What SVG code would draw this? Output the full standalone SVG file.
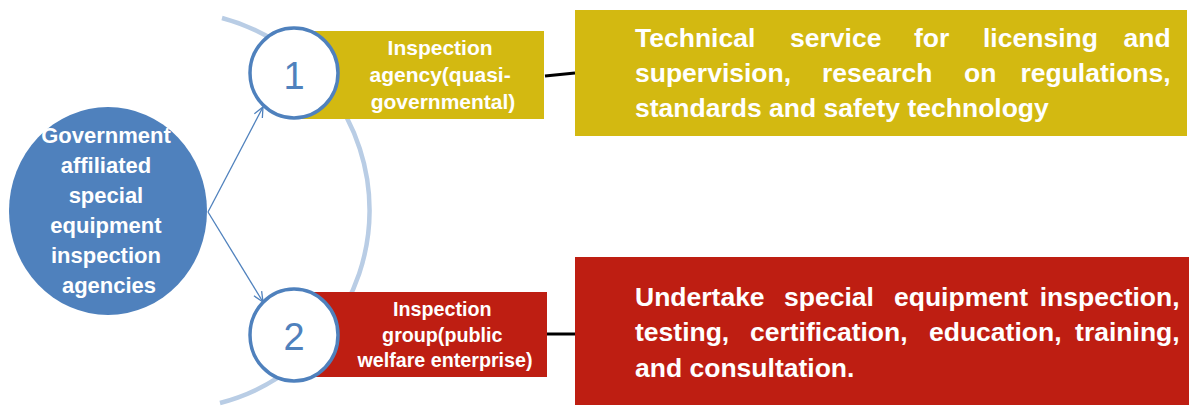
<svg xmlns="http://www.w3.org/2000/svg" width="1189" height="406" viewBox="0 0 1189 406">
<style>
.lbl{font-family:"Liberation Sans",Arial,sans-serif;font-weight:bold;fill:#fff;text-anchor:middle}
.big{font-family:"Liberation Sans",Arial,sans-serif;font-weight:bold;fill:#fff;font-size:26.5px}
.num{font-family:"Liberation Sans",Arial,sans-serif;fill:#4f81bd;font-size:38px;text-anchor:middle}
.ring{fill:#fff;stroke:#4f81bd;stroke-width:3.5}
.arrow{stroke:#4f81bd;stroke-width:1.3;fill:none}
.link{stroke:#000;stroke-width:3;fill:none}
</style>
<defs>
<marker id="open" markerUnits="userSpaceOnUse" viewBox="0 0 12 12" refX="11" refY="6" markerWidth="12" markerHeight="12" orient="auto">
<path d="M1,1.5 L11,6 L1,10.5" fill="none" stroke="#4f81bd" stroke-width="1.3"/>
</marker>
</defs>
<rect width="1189" height="406" fill="#fff"/>
<g id="arc">
<path d="M222,18 A199,199 0 0 1 220,403" fill="none" stroke="#b9cde5" stroke-width="4.5"/>
</g>
<g id="connectors">
<line class="arrow" x1="208" y1="212" x2="263" y2="107" marker-end="url(#open)"/>
<line class="arrow" x1="208" y1="212" x2="263" y2="302" marker-end="url(#open)"/>
<line class="link" x1="545" y1="76" x2="575" y2="73"/>
<line class="link" x1="547" y1="334" x2="575" y2="334"/>
</g>
<g id="source">
<ellipse cx="108" cy="211" rx="99" ry="104" fill="#4f81bd"/>
<text class="lbl" font-size="22" x="109">
<tspan x="109" y="143">Government</tspan>
<tspan x="109" y="173">affiliated</tspan>
<tspan x="109" y="203">special</tspan>
<tspan x="109" y="233">equipment</tspan>
<tspan x="109" y="263">inspection</tspan>
<tspan x="109" y="293">agencies</tspan>
</text>
</g>
<g id="node1">
<rect x="300" y="31" width="244" height="88" fill="#d3b911"/>
<ellipse class="ring" cx="294" cy="73" rx="44" ry="45"/>
<text class="num" x="294" y="89">1</text>
<text class="lbl" font-size="21">
<tspan x="443" y="55">Inspection</tspan>
<tspan x="443" y="82">agency(quasi-</tspan>
<tspan x="443" y="109">governmental)</tspan>
</text>
</g>
<g id="node2">
<rect x="300" y="292" width="247" height="85" fill="#be1e12"/>
<ellipse class="ring" cx="294" cy="335" rx="44" ry="46"/>
<text class="num" x="294" y="350">2</text>
<text class="lbl" font-size="19.7">
<tspan x="445" y="316">Inspection</tspan>
<tspan x="445" y="342">group(public</tspan>
<tspan x="445" y="367">welfare enterprise)</tspan>
</text>
</g>
<g id="desc1">
<rect x="575" y="10" width="612" height="126" fill="#d3b911"/>
<text class="big">
<tspan x="635" y="47">Technical</tspan>
<tspan x="790" y="47">service</tspan>
<tspan x="914" y="47">for</tspan>
<tspan x="983" y="47">licensing</tspan>
<tspan x="1178" y="47" text-anchor="end">and</tspan>
<tspan x="635" y="82">supervision,</tspan>
<tspan x="822" y="82">research</tspan>
<tspan x="964" y="82">on</tspan>
<tspan x="1178" y="82" text-anchor="end">regulations,</tspan>
<tspan x="635" y="117">standards and safety technology</tspan>
</text>
</g>
<g id="desc2">
<rect x="575" y="257" width="614" height="148" fill="#be1e12"/>
<text class="big">
<tspan x="635" y="306">Undertake</tspan>
<tspan x="784" y="306">special</tspan>
<tspan x="894" y="306">equipment</tspan>
<tspan x="1187" y="306" text-anchor="end">inspection,</tspan>
<tspan x="635" y="341">testing,</tspan>
<tspan x="750" y="341">certification,</tspan>
<tspan x="929" y="341">education,</tspan>
<tspan x="1187" y="341" text-anchor="end">training,</tspan>
<tspan x="635" y="377">and consultation.</tspan>
</text>
</g>
</svg>
